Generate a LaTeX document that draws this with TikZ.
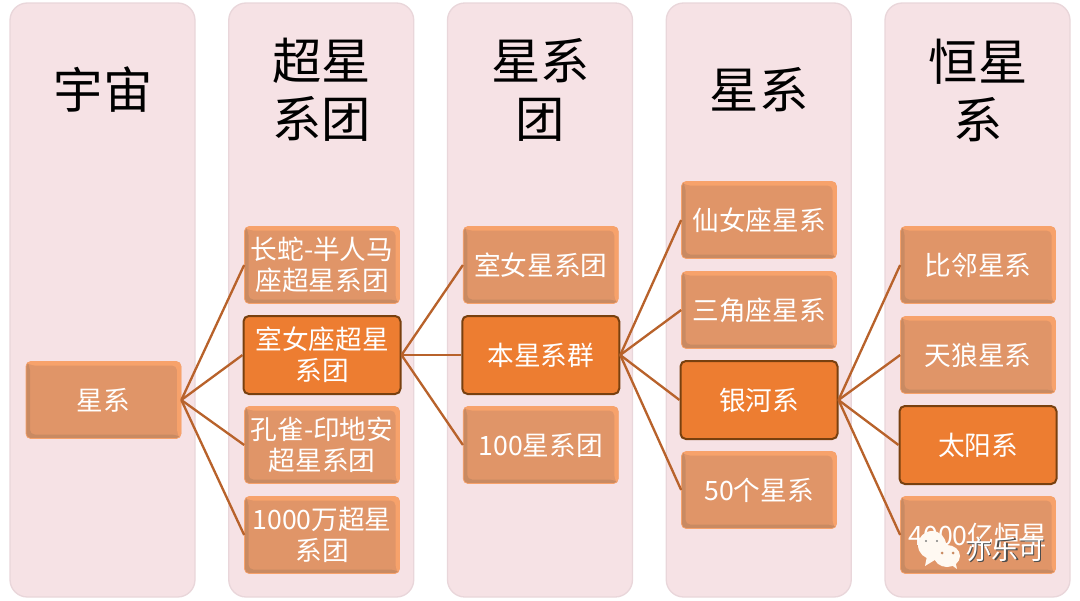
\documentclass[tikz,border=0pt]{standalone}
\usepackage{fontspec}
\setmainfont{Noto Sans CJK SC}
\usepackage{tikz}
\usetikzlibrary{positioning}

\definecolor{panelfill}{HTML}{F6E2E5}
\definecolor{panelline}{HTML}{E9D6DA}
\definecolor{boxfill}{HTML}{E09568}
\definecolor{boxlight}{HTML}{F7A26B}
\definecolor{boxdark}{HTML}{C98A62}
\definecolor{hotfill}{HTML}{ED7D31}
\definecolor{hotline}{HTML}{78400F}
\definecolor{linkcolor}{HTML}{B8622B}

\tikzset{
  panel/.style={draw=panelline, line width=1pt, fill=panelfill, rounded corners=13pt,
    minimum width=138.75pt, minimum height=445.5pt},
  title/.style={align=center, text=black, inner sep=0pt, font=\fontsize{37}{43.5}\selectfont},
  bevelbox/.style={draw=boxlight, line width=.5pt, fill=boxfill, rounded corners=3.5pt, text=white, align=center, inner sep=0pt,
    minimum width=116.25pt, minimum height=57.75pt, font=\fontsize{20}{23.25}\selectfont,
    path picture={
      \fill[boxlight] (path picture bounding box.north west) -- (path picture bounding box.north east)
        -- (path picture bounding box.south east) -- ++(-3pt,3pt) -- ++(0pt,51.75pt) -- ++(-110.25pt,0pt) -- cycle;
      \fill[boxdark] (path picture bounding box.north west) -- ++(3pt,-3pt) -- ++(0pt,-51.75pt) -- ++(110.25pt,0pt)
        -- (path picture bounding box.south east) -- (path picture bounding box.south west) -- cycle;
    }},
  hotbox/.style={draw=hotline, line width=1.5pt, fill=hotfill, rounded corners=4pt, text=white, align=center,
    inner sep=0pt, minimum width=117.75pt, minimum height=58.5pt, font=\fontsize{20}{23.25}\selectfont},
  link/.style={draw=linkcolor, line width=1.75pt},
}
\def\colgap{164.06pt}

\begin{document}
\begin{tikzpicture}[x=0.75pt,y=-0.75pt,node distance=67.5pt,on grid]
  \useasboundingbox (0,0) rectangle (1080,600);

  % panels
  \node[panel] (p1) at (102.5,300) {};
  \node[panel] (p2) [right=\colgap of p1] {};
  \node[panel] (p3) [right=\colgap of p2] {};
  \node[panel] (p4) [right=\colgap of p3] {};
  \node[panel] (p5) [right=\colgap of p4] {};

  \node[title] (t1) at (103,90) {宇宙};
  \node[title] (t2) [right=\colgap of t1] {超星\\系团};
  \node[title] (t3) [right=\colgap of t2] {星系\\团};
  \node[title] (t4) [right=\colgap of t3] {星系};
  \node[title] (t5) [right=\colgap of t4] {恒星\\系};

  % boxes
  \node[bevelbox] (root) at (103.5,400) {星系};

  \node[bevelbox] (c2a) at (322,265) {长蛇-半人马\\座超星系团};
  \node[hotbox]   (c2b) [below=of c2a] {室女座超星\\系团};
  \node[bevelbox] (c2c) [below=of c2b] {孔雀-印地安\\超星系团};
  \node[bevelbox] (c2d) [below=of c2c] {1000万超星\\系团};

  \node[bevelbox] (c3a) [right=\colgap of c2a] {室女星系团};
  \node[hotbox]   (c3b) [below=of c3a] {本星系群};
  \node[bevelbox] (c3c) [below=of c3b] {100星系团};

  \node[bevelbox] (c4a) at (759,220) {仙女座星系};
  \node[bevelbox] (c4b) [below=of c4a] {三角座星系};
  \node[hotbox]   (c4c) [below=of c4b] {银河系};
  \node[bevelbox] (c4d) [below=of c4c] {50个星系};

  \node[bevelbox] (c5a) at (978,265) {比邻星系};
  \node[bevelbox] (c5b) [below=of c5a] {天狼星系};
  \node[hotbox]   (c5c) [below=of c5b] {太阳系};
  \node[bevelbox] (c5d) [below=of c5c] {4000亿恒星};

  % links
  \foreach \to in {c2a,c2b,c2c,c2d} \draw[link] (root.east) -- (\to.west);
  \foreach \to in {c3a,c3b,c3c} \draw[link] (c2b.east) -- (\to.west);
  \foreach \to in {c4a,c4b,c4c,c4d} \draw[link] (c3b.east) -- (\to.west);
  \foreach \to in {c5a,c5b,c5c,c5d} \draw[link] (c4c.east) -- (\to.west);

  % watermark
  \fill[white!95!orange] (932,545) ellipse [x radius=14, y radius=14];
  \fill[white!95!orange] (927,556) -- (925,566) -- (938,558) -- cycle;
  \fill[white!95!orange] (947,556) ellipse [x radius=13, y radius=11];
  \fill[white!95!orange] (950,564) -- (957,569) -- (955,560) -- cycle;
  \fill[gray] (926,541) circle [radius=1.2] (937,541) circle [radius=1.2];
  \fill[boxdark] (942,553) circle [radius=1.5] (953,553) circle [radius=1.5];
  \node[text=black!70, font=\fontsize{20}{24}\selectfont, inner sep=0pt] (wmshade) at (1006.5,550.5) {亦乐可};
  \node[text=white, font=\fontsize{20}{24}\selectfont, inner sep=0pt] (wmtext) at (1005,549) {亦乐可};
\end{tikzpicture}
\end{document}
